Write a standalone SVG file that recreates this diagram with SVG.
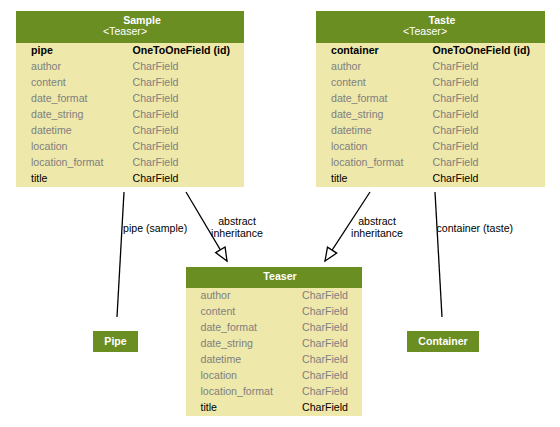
<svg xmlns="http://www.w3.org/2000/svg" width="560" height="427" viewBox="0 0 560 427">
<defs>
<style>
text{font-family:"Liberation Sans",Arial,sans-serif;font-size:10.6px}
.hd{fill:#6b8e23}
.bd{fill:#eee8aa}
.ht{fill:#fff;font-weight:bold;text-anchor:middle}
.hs{fill:#fff;text-anchor:middle}
.g{fill:#7f7f7f}
.k{fill:#000}
.b{fill:#000;font-weight:bold}
.e{stroke:#000;stroke-width:1.3;fill:none}
.lbl{fill:#000}
.c{text-anchor:middle}
</style>
<marker id="tri" markerUnits="userSpaceOnUse" markerWidth="16" markerHeight="14" viewBox="-14 -7 16 14" refX="0" refY="0" orient="auto">
<path d="M0,0 L-13,-5.5 L-13,5.5 Z" fill="#fff" stroke="#000" stroke-width="1.3"/>
</marker>
</defs>
<rect width="560" height="427" fill="#fff"/>
<g id="connectors">
<path class="e" d="M124,192 L117,317"/>
<text class="lbl" x="123" y="231.5">pipe (sample)</text>
<path class="e" d="M186,192 L227,261" marker-end="url(#tri)"/>
<text class="lbl c" x="237" y="225">abstract</text>
<text class="lbl c" x="237" y="236.5">inheritance</text>
<path class="e" d="M370,192 L325,261" marker-end="url(#tri)"/>
<text class="lbl c" x="377" y="225">abstract</text>
<text class="lbl c" x="377" y="236.5">inheritance</text>
<path class="e" d="M435,192 L442,317"/>
<text class="lbl" x="436.5" y="231.5">container (taste)</text>
</g>
<g id="sample">
<rect class="hd" x="16" y="11" width="228" height="32"/>
<rect class="bd" x="16" y="43" width="228" height="144"/>
<text class="ht" x="142" y="24">Sample</text>
<text class="hs" x="125" y="35">&lt;Teaser&gt;</text>
<text class="b" x="31" y="53.5">pipe</text><text class="b" x="132.5" y="53.5">OneToOneField (id)</text>
<text class="g" x="31" y="69.5">author</text><text class="g" x="132.5" y="69.5">CharField</text>
<text class="g" x="31" y="85.5">content</text><text class="g" x="132.5" y="85.5">CharField</text>
<text class="g" x="31" y="101.5">date_format</text><text class="g" x="132.5" y="101.5">CharField</text>
<text class="g" x="31" y="117.5">date_string</text><text class="g" x="132.5" y="117.5">CharField</text>
<text class="g" x="31" y="133.5">datetime</text><text class="g" x="132.5" y="133.5">CharField</text>
<text class="g" x="31" y="149.5">location</text><text class="g" x="132.5" y="149.5">CharField</text>
<text class="g" x="31" y="165.5">location_format</text><text class="g" x="132.5" y="165.5">CharField</text>
<text class="k" x="31" y="181.5">title</text><text class="k" x="132.5" y="181.5">CharField</text>
</g>
<g id="taste">
<rect class="hd" x="316" y="11" width="229" height="32"/>
<rect class="bd" x="316" y="43" width="229" height="144"/>
<text class="ht" x="442" y="24">Taste</text>
<text class="hs" x="425" y="35">&lt;Teaser&gt;</text>
<text class="b" x="331" y="53.5">container</text><text class="b" x="432.5" y="53.5">OneToOneField (id)</text>
<text class="g" x="331" y="69.5">author</text><text class="g" x="432.5" y="69.5">CharField</text>
<text class="g" x="331" y="85.5">content</text><text class="g" x="432.5" y="85.5">CharField</text>
<text class="g" x="331" y="101.5">date_format</text><text class="g" x="432.5" y="101.5">CharField</text>
<text class="g" x="331" y="117.5">date_string</text><text class="g" x="432.5" y="117.5">CharField</text>
<text class="g" x="331" y="133.5">datetime</text><text class="g" x="432.5" y="133.5">CharField</text>
<text class="g" x="331" y="149.5">location</text><text class="g" x="432.5" y="149.5">CharField</text>
<text class="g" x="331" y="165.5">location_format</text><text class="g" x="432.5" y="165.5">CharField</text>
<text class="k" x="331" y="181.5">title</text><text class="k" x="432.5" y="181.5">CharField</text>
</g>
<g id="teaser">
<rect class="hd" x="186" y="267" width="176" height="21"/>
<rect class="bd" x="186" y="288" width="176" height="128"/>
<text class="ht" x="280" y="280">Teaser</text>
<text class="g" x="200.5" y="299">author</text><text class="g" x="302" y="299">CharField</text>
<text class="g" x="200.5" y="315">content</text><text class="g" x="302" y="315">CharField</text>
<text class="g" x="200.5" y="331">date_format</text><text class="g" x="302" y="331">CharField</text>
<text class="g" x="200.5" y="347">date_string</text><text class="g" x="302" y="347">CharField</text>
<text class="g" x="200.5" y="363">datetime</text><text class="g" x="302" y="363">CharField</text>
<text class="g" x="200.5" y="379">location</text><text class="g" x="302" y="379">CharField</text>
<text class="g" x="200.5" y="395">location_format</text><text class="g" x="302" y="395">CharField</text>
<text class="k" x="200.5" y="411">title</text><text class="k" x="302" y="411">CharField</text>
</g>
<g id="pipe">
<rect class="hd" x="93" y="331" width="45" height="21"/>
<text class="ht" x="115.5" y="344.5">Pipe</text>
</g>
<g id="container">
<rect class="hd" x="407" y="331" width="72" height="21"/>
<text class="ht" x="443" y="344.5">Container</text>
</g>
</svg>
